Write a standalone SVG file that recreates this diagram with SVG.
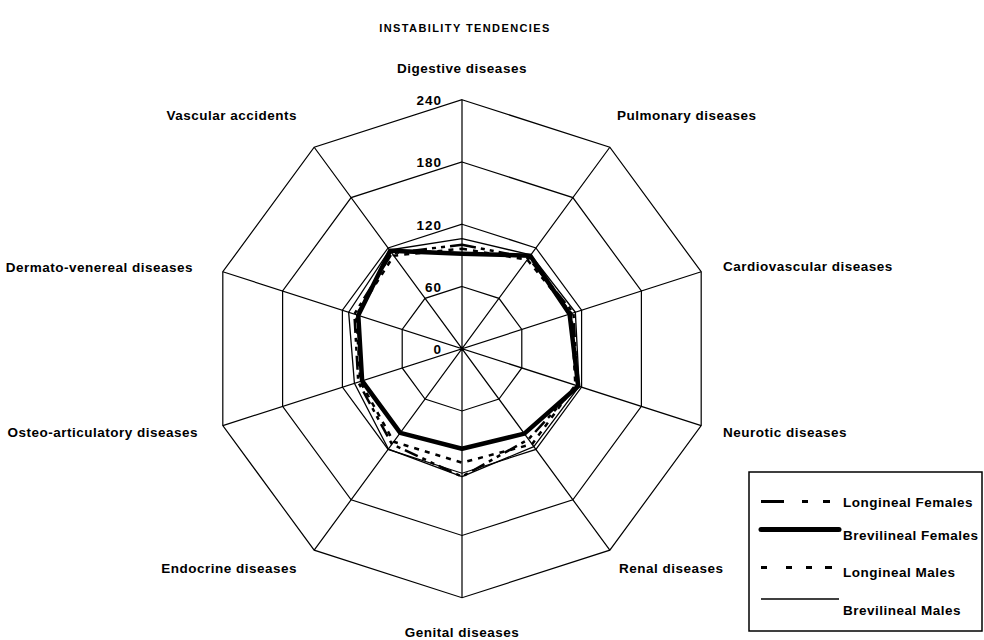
<svg xmlns="http://www.w3.org/2000/svg" width="984" height="640" viewBox="0 0 984 640">
  <style>
    .grid { fill: none; stroke: #000; stroke-width: 1.2; }
    .lbl { font-family: "Liberation Sans", Arial, sans-serif; font-weight: bold; font-size: 13.5px; letter-spacing: 0.5px; fill: #000; }
    .tick { font-family: "Liberation Sans", Arial, sans-serif; font-weight: bold; font-size: 13.5px; letter-spacing: 1px; fill: #000; text-anchor: end; }
    .title { font-family: "Liberation Sans", Arial, sans-serif; font-weight: bold; font-size: 11px; letter-spacing: 1.4px; fill: #000; text-anchor: middle; }
    .series { fill: none; stroke: #000; stroke-linejoin: round; }
    .lf { stroke-width: 2.5; stroke-dasharray: 14 5 4 5 4 5; }
    .bf { stroke-width: 4.5; }
    .lm { stroke-width: 2.5; stroke-dasharray: 5 6; }
    .bm { stroke-width: 1.3; }
  </style>

  <text class="title" x="465" y="32">INSTABILITY TENDENCIES</text>

  <!-- radar grid: centre (462, 348.7), 10 axes, rings every 60 units -->
  <g id="grid" transform="translate(462 348.7) scale(1.01 1)">
    <polygon class="grid" points="0,-62.25 36.59,-50.36 59.2,-19.24 59.2,19.24 36.59,50.36 0,62.25 -36.59,50.36 -59.2,19.24 -59.2,-19.24 -36.59,-50.36"/>
    <polygon class="grid" points="0,-124.5 73.18,-100.72 118.41,-38.47 118.41,38.47 73.18,100.72 0,124.5 -73.18,100.72 -118.41,38.47 -118.41,-38.47 -73.18,-100.72"/>
    <polygon class="grid" points="0,-186.75 109.77,-151.08 177.61,-57.71 177.61,57.71 109.77,151.08 0,186.75 -109.77,151.08 -177.61,57.71 -177.61,-57.71 -109.77,-151.08"/>
    <polygon class="grid" points="0,-249 146.36,-201.44 236.82,-76.94 236.82,76.94 146.36,201.44 0,249 -146.36,201.44 -236.82,76.94 -236.82,-76.94 -146.36,-201.44"/>
    <path class="grid" d="M0,-249 L0,249 M146.36,-201.44 L-146.36,201.44 M236.82,-76.94 L-236.82,76.94 M236.82,76.94 L-236.82,-76.94 M146.36,201.44 L-146.36,-201.44"/>
  </g>

  <!-- scale values on the top axis -->
  <g id="scale">
    <text class="tick" x="442" y="105">240</text>
    <text class="tick" x="442" y="167">180</text>
    <text class="tick" x="442" y="230">120</text>
    <text class="tick" x="442" y="291.5">60</text>
    <text class="tick" x="442" y="354">0</text>
  </g>

  <!-- data series -->
  <g id="connectors" transform="translate(462 348.7) scale(1.01 1)">
    <polygon id="brevilineal-males" class="series bm" points="0,-110 68.18,-93.84 112.23,-36.46 116.03,37.7 71.12,97.89 0,128 -72.89,100.32 -106.52,34.61 -112.23,-36.46 -71.71,-98.7"/>
    <polygon id="longineal-females" class="series lf" points="0,-104 65.83,-90.61 110.33,-35.84 114.13,37.08 65.83,90.61 0,128 -69.36,95.46 -102.72,33.37 -106.52,-34.61 -69.36,-95.46"/>
    <polygon id="longineal-males" class="series lm" points="0,-100 64.66,-88.99 108.43,-35.23 112.23,36.46 69.36,95.46 0,114 -67.6,93.04 -100.81,32.75 -104.62,-33.99 -67.6,-93.04"/>
    <polygon id="brevilineal-females" class="series bf" points="0,-95 67.6,-93.04 106.52,-34.61 115.08,37.39 61.72,84.95 0,100 -61.13,84.14 -98.91,32.14 -102.72,-33.37 -71.12,-97.89"/>
  </g>

  <!-- axis labels -->
  <g id="axis-labels">
    <g id="digestive"><text class="lbl" x="462" y="73" text-anchor="middle">Digestive diseases</text></g>
    <g id="pulmonary"><text class="lbl" x="617" y="120">Pulmonary diseases</text></g>
    <g id="cardiovascular"><text class="lbl" x="723" y="271">Cardiovascular diseases</text></g>
    <g id="neurotic"><text class="lbl" x="723" y="437">Neurotic diseases</text></g>
    <g id="renal"><text class="lbl" x="619" y="573">Renal diseases</text></g>
    <g id="genital"><text class="lbl" x="462" y="637" text-anchor="middle">Genital diseases</text></g>
    <g id="endocrine"><text class="lbl" x="297" y="573" text-anchor="end">Endocrine diseases</text></g>
    <g id="osteo"><text class="lbl" x="198" y="437" text-anchor="end">Osteo-articulatory diseases</text></g>
    <g id="dermato"><text class="lbl" x="193" y="271.5" text-anchor="end">Dermato-venereal diseases</text></g>
    <g id="vascular"><text class="lbl" x="297" y="120" text-anchor="end">Vascular accidents</text></g>
  </g>

  <!-- legend -->
  <g id="legend">
    <rect x="749" y="472" width="233" height="159" fill="#fff" stroke="#000" stroke-width="1.5"/>
    <path d="M761,501.5 H784 M802,501.5 H808 M823,501.5 H830" stroke="#000" stroke-width="3" fill="none"/>
    <text class="lbl" x="843" y="506.5">Longineal Females</text>
    <path d="M761,529.5 H839" stroke="#000" stroke-width="5" stroke-linecap="round" fill="none"/>
    <text class="lbl" x="843" y="540">Brevilineal Females</text>
    <path d="M761,567.5 H767 M786,567.5 H792 M806,567.5 H812 M825,567.5 H832" stroke="#000" stroke-width="3" fill="none"/>
    <text class="lbl" x="843" y="576.5">Longineal Males</text>
    <path d="M761,599 H839" stroke="#000" stroke-width="1.5" fill="none"/>
    <text class="lbl" x="843" y="615">Brevilineal Males</text>
  </g>
</svg>
